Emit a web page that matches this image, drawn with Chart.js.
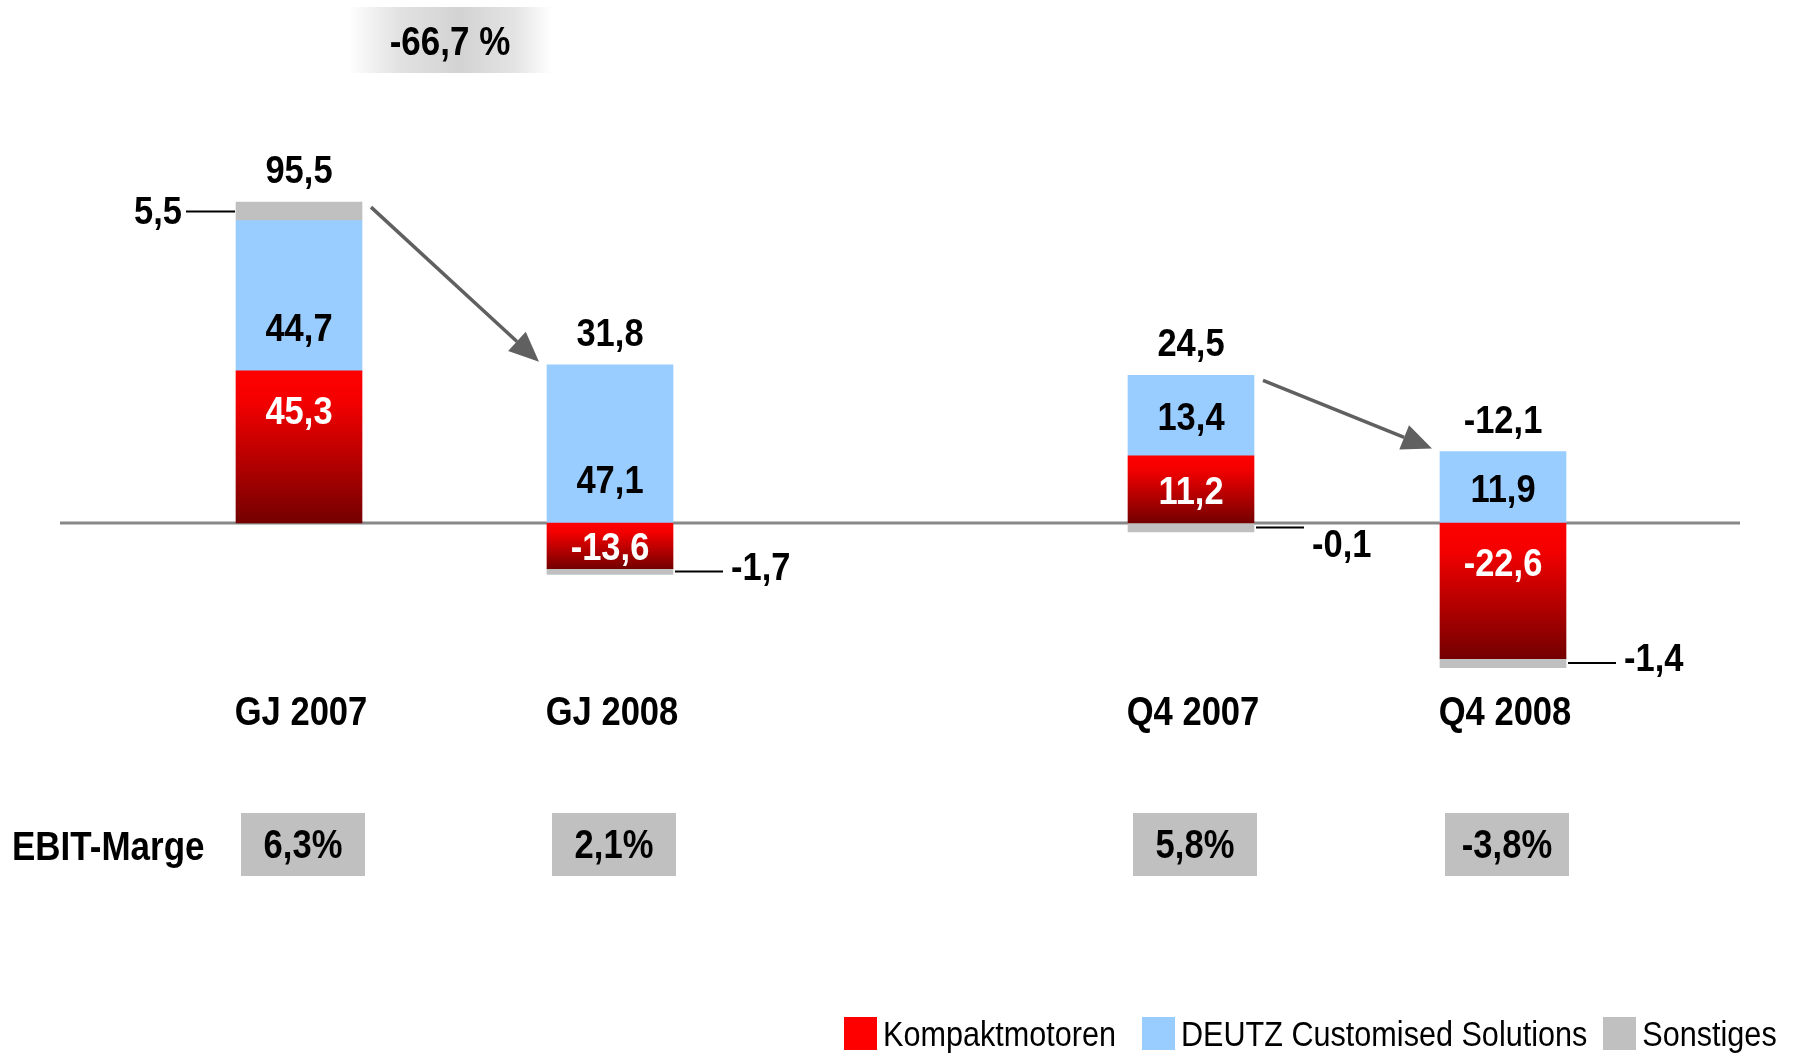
<!DOCTYPE html>
<html lang="de">
<head>
<meta charset="utf-8">
<title>EBIT nach Segmenten</title>
<script src="https://cdn.jsdelivr.net/npm/chart.js@4.4.1/dist/chart.umd.min.js"></script>
<style>
  html, body { margin: 0; padding: 0; background: #fff; }
  #page { position: relative; width: 1795px; height: 1053px; overflow: hidden;
          font-family: "Liberation Sans", Arial, sans-serif; color: #000; }
  #page canvas { position: absolute; left: 0; top: 0; }
  .tall { display: inline-block; transform: scaleY(1.15); }
  #change { position: absolute; left: 348px; top: 7px; width: 204px; height: 66px;
            background: linear-gradient(to right, #fff 0%, #e2e2e2 25%, #d3d3d3 55%, #e4e4e4 82%, #fff 100%);
            font-weight: bold; font-size: 35px; line-height: 68px; text-align: center; }
  #ebitLabel { position: absolute; left: 12px; top: 813px; height: 63px; line-height: 66px;
               font-weight: bold; font-size: 35px; white-space: nowrap; }
  #legend { position: absolute; left: 844px; top: 1017px; display: flex; align-items: center; }
  #legend .item { display: flex; align-items: center; margin-right: 26px; }
  #legend .item:nth-child(2) { margin-right: 16px; }
  #legend .swatch { width: 33px; height: 33px; margin-right: 6px; }
  #legend .name { font-size: 30.6px; line-height: 33px; white-space: nowrap; }
</style>
</head>
<body>
<div id="page">
  <canvas id="yearChart" width="1795" height="1053"></canvas>
  <canvas id="quarterChart" width="1795" height="1053"></canvas>
  <div id="change"><span class="tall" id="changeText"></span></div>
  <div id="ebitLabel"><span class="tall">EBIT-Marge</span></div>
  <div id="legend"></div>
</div>
<script>
// Data (EBIT in Mio. EUR)
const yearLabels = ['GJ 2007', 'GJ 2008'];
const quarterLabels = ['Q4 2007', 'Q4 2008'];
const seriesNames = ['Kompaktmotoren', 'DEUTZ Customised Solutions', 'Sonstiges'];

const kompaktYear = [45.3, -13.6];
const dcsYear = [44.7, 47.1];
const sonstigesYear = [5.5, -1.7];
const ebitMarginYear = [6.3, 2.1];

const kompaktQuarter = [11.2, -22.6];
const dcsQuarter = [13.4, 11.9];
const sonstigesQuarter = [-0.1, -1.4];
const ebitMarginQuarter = [5.8, -3.8];

// Styles
const RED = '#ff0000';
const BLUE = '#99ccff';
const GREY = '#c0c0c0';
const FONT = '"Liberation Sans", Arial, sans-serif';
const STRETCH = 1.15;

function fmt(v) {
  return v.toFixed(1).replace('.', ',').replace('-0,0', '0,0');
}

function drawText(ctx, text, x, baseline, size, color, align, weight) {
  ctx.save();
  ctx.font = (weight || 'bold') + ' ' + size + 'px ' + FONT;
  ctx.fillStyle = color;
  ctx.textAlign = align || 'center';
  ctx.textBaseline = 'alphabetic';
  ctx.translate(x, baseline);
  ctx.scale(1, STRETCH);
  ctx.fillText(text, 0, 0);
  ctx.restore();
}

// text centred vertically on the digits
function drawMid(ctx, text, x, cy, size, color, align) {
  drawText(ctx, text, x, cy + 0.358 * size * STRETCH, size, color, align);
}

function drawArrow(ctx, x1, y1, x2, y2) {
  const ang = Math.atan2(y2 - y1, x2 - x1);
  const head = 30, half = 13;
  const bx = x2 - head * Math.cos(ang), by = y2 - head * Math.sin(ang);
  ctx.save();
  ctx.strokeStyle = '#606060';
  ctx.fillStyle = '#606060';
  ctx.lineWidth = 3.5;
  ctx.beginPath();
  ctx.moveTo(x1, y1);
  ctx.lineTo(bx, by);
  ctx.stroke();
  ctx.beginPath();
  ctx.moveTo(x2, y2);
  ctx.lineTo(bx + half * Math.sin(ang), by - half * Math.cos(ang));
  ctx.lineTo(bx - half * Math.sin(ang), by + half * Math.cos(ang));
  ctx.closePath();
  ctx.fill();
  ctx.restore();
}

function redGradient(context) {
  const chart = context.chart;
  if (!chart.chartArea || context.raw == null) return RED;
  const yScale = chart.scales.y;
  const p0 = yScale.getPixelForValue(0);
  const p1 = yScale.getPixelForValue(context.raw);
  const top = Math.min(p0, p1), bottom = Math.max(p0, p1);
  if (bottom - top < 1) return RED;
  const g = chart.ctx.createLinearGradient(0, top, 0, bottom);
  g.addColorStop(0, '#ff0000');
  g.addColorStop(0.2, '#f40000');
  g.addColorStop(1, '#740000');
  return g;
}

function makeLabelPlugin(margins, drawZero) {
  return {
    id: 'segmentLabels',
    beforeDatasetsDraw(chart) {
      if (!drawZero) return;
      const ctx = chart.ctx;
      const y0 = chart.scales.y.getPixelForValue(0);
      ctx.save();
      ctx.strokeStyle = '#888';
      ctx.lineWidth = 3;
      ctx.beginPath();
      ctx.moveTo(60, y0);
      ctx.lineTo(1740, y0);
      ctx.stroke();
      ctx.restore();
    },
    afterDatasetsDraw(chart) {
      const ctx = chart.ctx;
      const yScale = chart.scales.y;
      const zeroPx = yScale.getPixelForValue(0);
      const metas = [0, 1, 2].map(i => chart.getDatasetMeta(i));
      const data = chart.data.datasets.map(d => d.data);
      const stackTops = [];

      chart.data.labels.forEach((label, i) => {
        const red = metas[0].data[i], blue = metas[1].data[i], grey = metas[2].data[i];
        const cx = red.x;
        const half = red.width / 2;

        // Kompaktmotoren
        let top = Math.min(red.y, red.base), bottom = Math.max(red.y, red.base);
        drawMid(ctx, fmt(data[0][i]), cx, Math.min(top + 39, (top + bottom) / 2), 34.5, '#fff');

        // DEUTZ Customised Solutions
        top = Math.min(blue.y, blue.base); bottom = Math.max(blue.y, blue.base);
        drawMid(ctx, fmt(data[1][i]), cx, Math.max((top + bottom) / 2, bottom - 44), 34.5, '#000');

        // Sonstiges with leader line
        const gv = data[2][i];
        const gm = (grey.y + grey.base) / 2;
        ctx.save();
        ctx.strokeStyle = '#000';
        ctx.lineWidth = 2;
        ctx.beginPath();
        if (gv > 0) {
          ctx.moveTo(cx - half - 1, gm);
          ctx.lineTo(cx - half - 50, gm);
        } else {
          ctx.moveTo(cx + half + 2, gm);
          ctx.lineTo(cx + half + 50, gm);
        }
        ctx.stroke();
        ctx.restore();
        if (gv > 0) {
          drawMid(ctx, fmt(gv), cx - half - 54, gm - 2, 34.5, '#000', 'right');
        } else {
          drawMid(ctx, fmt(gv), cx + half + 58, Math.max(gm - 6, zeroPx + 20), 34.5, '#000', 'left');
        }

        // total above the stack
        const total = data[0][i] + data[1][i] + data[2][i];
        const pos = data.reduce((s, d) => s + Math.max(d[i], 0), 0);
        const yTop = yScale.getPixelForValue(pos);
        drawText(ctx, fmt(total), cx, yTop - 19, 34.5, '#000');
        stackTops.push({ left: cx - half, right: cx + half, top: yTop });

        // category label
        drawMid(ctx, label, cx + 2, 711, 34.6, '#000');

        // EBIT margin box
        ctx.fillStyle = GREY;
        ctx.fillRect(cx + 4 - 62, 813, 124, 63);
        drawMid(ctx, fmt(margins[i]) + '%', cx + 4, 844, 34.6, '#000');
      });

      const a = stackTops[0], b = stackTops[1];
      drawArrow(ctx, a.right + 9, a.top + 5, b.left - 8, b.top - 3);
    }
  };
}

function makeChart(id, labels, kompakt, dcs, sonstiges, margins, yMin, yMax, padLeft, padRight, greyMin, drawZero) {
  return new Chart(document.getElementById(id), {
    type: 'bar',
    data: {
      labels: labels,
      datasets: [
        { label: seriesNames[0], data: kompakt, backgroundColor: redGradient },
        { label: seriesNames[1], data: dcs, backgroundColor: BLUE },
        { label: seriesNames[2], data: sonstiges, backgroundColor: GREY, minBarLength: greyMin }
      ]
    },
    options: {
      responsive: false,
      animation: false,
      events: [],
      datasets: { bar: { barThickness: 126, borderWidth: 0 } },
      layout: { padding: { left: padLeft, right: padRight, top: 100, bottom: 353 } },
      scales: {
        x: { stacked: true, display: false },
        y: { stacked: true, display: false, min: yMin, max: yMax }
      },
      plugins: {
        legend: { display: false },
        tooltip: { enabled: false }
      }
    },
    plugins: [makeLabelPlugin(margins, drawZero)]
  });
}

// Left pair: full years, right pair: fourth quarters (own scale)
makeChart('yearChart', yearLabels, kompaktYear, dcsYear, sonstigesYear, ebitMarginYear,
  -52.68, 125.9, 143.5, 1029.5, 0, true);
makeChart('quarterChart', quarterLabels, kompaktQuarter, dcsQuarter, sonstigesQuarter, ebitMarginQuarter,
  -29.5, 70.5, 1035, 136, 9, false);

// change of full-year EBIT
const totalsYear = yearLabels.map((_, i) => kompaktYear[i] + dcsYear[i] + sonstigesYear[i]);
const change = (totalsYear[1] - totalsYear[0]) / totalsYear[0] * 100;
document.getElementById('changeText').textContent = fmt(change) + ' %';

// Legend
const legendColors = [RED, BLUE, GREY];
const legend = document.getElementById('legend');
seriesNames.forEach((name, i) => {
  const item = document.createElement('div');
  item.className = 'item';
  const sw = document.createElement('div');
  sw.className = 'swatch';
  sw.style.background = legendColors[i];
  const txt = document.createElement('span');
  txt.className = 'name tall';
  txt.textContent = name;
  item.appendChild(sw);
  item.appendChild(txt);
  legend.appendChild(item);
});
</script>
</body>
</html>
